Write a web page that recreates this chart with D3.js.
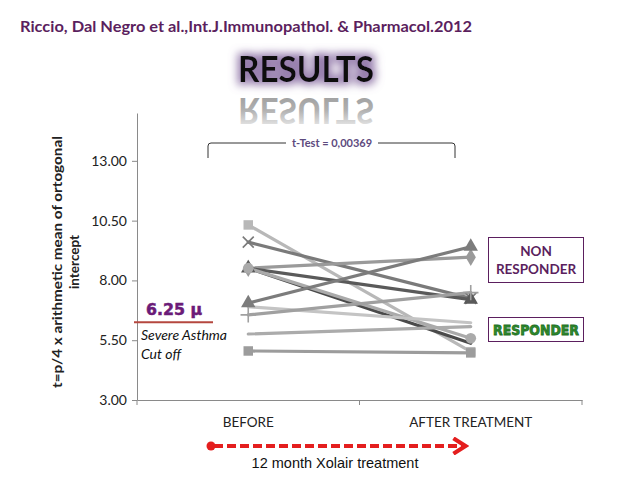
<!DOCTYPE html>
<html>
<head>
<meta charset="utf-8">
<script src="https://cdn.jsdelivr.net/npm/d3@7"></script>
<style>
  body { margin: 0; background: #fff; }
  svg { display: block; }
</style>
</head>
<body>
<div id="chart"></div>
<script>
// patients: value before and after 12 months
const categories = ["BEFORE", "AFTER TREATMENT"];
const beforeValues = [10.32, 9.60, 8.51, 8.51, 8.51, 8.51, 7.05, 6.90, 6.56, 5.76, 5.05];
const afterValues  = [5.02, 7.25, 8.97, 7.20, 5.37, 5.58, 9.41, 6.23, 7.49, 6.07, 4.97];
const lineColors   = ["#b8b8b8", "#7a7a7a", "#9a9a9a", "#5a5a5a", "#4a4a4a", "#aaaaaa", "#7c7c7c", "#c4c4c4", "#a0a0a0", "#ababab", "#9c9c9c"];
const markerTypes  = ["square", "star", "diamond", "triangle", "none", "circle", "triangle", "none", "cross", "none", "square"];
const yTicks = [3.00, 5.50, 8.00, 10.50, 13.00];
const cutoff = 6.25;

const W = 638, H = 479;
const FONT = "Lato, 'Open Sans', sans-serif";
const svg = d3.select("#chart").append("svg")
    .attr("width", W)
    .attr("height", H);

const defs = svg.append("defs");

// purple glow behind RESULTS
const glow = defs.append("filter").attr("id", "glow")
    .attr("x", "-20%").attr("y", "-40%").attr("width", "140%").attr("height", "180%");
glow.append("feMorphology").attr("in", "SourceAlpha").attr("operator", "dilate").attr("radius", 3).attr("result", "fat");
glow.append("feGaussianBlur").attr("in", "fat").attr("stdDeviation", 4).attr("result", "blur");
glow.append("feFlood").attr("flood-color", "#85689f").attr("flood-opacity", 0.85);
glow.append("feComposite").attr("in2", "blur").attr("operator", "in").attr("result", "halo");
const merge = glow.append("feMerge");
merge.append("feMergeNode").attr("in", "halo");
merge.append("feMergeNode").attr("in", "SourceGraphic");

const fade = defs.append("linearGradient").attr("id", "fade")
    .attr("x1", 0).attr("y1", 0).attr("x2", 0).attr("y2", 1);
fade.append("stop").attr("offset", "0%").attr("stop-color", "#fff");
fade.append("stop").attr("offset", "55%").attr("stop-color", "#b0b0b0");
fade.append("stop").attr("offset", "100%").attr("stop-color", "#9a9a9a");

const arrowHead = defs.append("marker").attr("id", "arrowhead")
    .attr("viewBox", "0 0 10 10").attr("refX", 6).attr("refY", 5)
    .attr("markerWidth", 4.5).attr("markerHeight", 4.5).attr("orient", "auto");
arrowHead.append("path").attr("d", "M1,0.5 L8,5 L1,9.5").attr("fill", "none")
    .attr("stroke", "#e41e1e").attr("stroke-width", 2.4);

// header
svg.append("text")
    .attr("x", 20).attr("y", 32)
    .attr("font-family", FONT).attr("font-weight", 700)
    .attr("font-size", 15.5).attr("fill", "#5b1f5e")
    .attr("textLength", 452).attr("lengthAdjust", "spacingAndGlyphs")
    .text("Riccio, Dal Negro et al.,Int.J.Immunopathol. & Pharmacol.2012");

svg.append("text")
    .attr("x", 306).attr("y", 82)
    .attr("text-anchor", "middle")
    .attr("font-family", FONT).attr("font-weight", 700)
    .attr("font-size", 36).attr("fill", "#111")
    .attr("textLength", 136).attr("lengthAdjust", "spacingAndGlyphs")
    .attr("filter", "url(#glow)")
    .text("RESULTS");

// reflection
svg.append("text")
    .attr("transform", "translate(306,98) scale(1,-1)")
    .attr("text-anchor", "middle")
    .attr("font-family", FONT).attr("font-weight", 700)
    .attr("font-size", 36).attr("fill", "url(#fade)")
    .attr("textLength", 136).attr("lengthAdjust", "spacingAndGlyphs")
    .text("RESULTS");

// scales
const x = d3.scaleBand().domain(categories).range([137, 582]);
const y = d3.scaleLinear().domain([3, 15]).range([400, 113]);
const cx = c => x(c) + x.bandwidth() / 2;

// y axis
const yAxis = svg.append("g")
    .attr("transform", "translate(137,0)")
    .call(d3.axisLeft(y).tickValues(yTicks).tickFormat(d3.format(".2f")).tickSize(5).tickSizeOuter(0));
yAxis.select(".domain").attr("stroke", "#8a8a8a");
yAxis.selectAll(".tick line").attr("stroke", "#8a8a8a");
yAxis.selectAll(".tick text")
    .attr("font-family", FONT).attr("font-size", 14)
    .attr("fill", "#222").attr("x", -10);

// x axis
const xAxis = svg.append("g")
    .attr("transform", "translate(0,400)")
    .call(d3.axisBottom(x).tickSize(0).tickSizeOuter(0));
xAxis.select(".domain").attr("stroke", "#8a8a8a");
xAxis.selectAll(".tick text")
    .attr("font-family", FONT).attr("font-size", 13.5)
    .attr("fill", "#222").attr("dy", "1.75em");
const bounds = [x.range()[0], x(categories[1]), x.range()[1]];
xAxis.selectAll(".bound").data(bounds).enter().append("line")
    .attr("x1", d => d).attr("x2", d => d)
    .attr("y1", 0).attr("y2", 5)
    .attr("stroke", "#8a8a8a");

// y axis title
const yTitle = svg.append("text")
    .attr("transform", "translate(62,262) rotate(-90)")
    .attr("text-anchor", "middle")
    .attr("font-family", FONT).attr("font-weight", 700)
    .attr("font-size", 13.5).attr("fill", "#222");
yTitle.append("tspan").attr("x", 0).attr("dy", 0)
    .attr("textLength", 252).attr("lengthAdjust", "spacingAndGlyphs")
    .text("t=p/4 x arithmetic mean of ortogonal");
yTitle.append("tspan").attr("x", 0).attr("dy", 17).text("intercept");

// t-test bracket
const bx0 = 208, bx1 = 455, by = 143;
svg.append("path")
    .attr("d", `M${bx0},158 L${bx0},${by + 3} Q${bx0},${by} ${bx0 + 3},${by} L${bx1 - 3},${by} Q${bx1},${by} ${bx1},${by + 3} L${bx1},158`)
    .attr("fill", "none").attr("stroke", "#333").attr("stroke-width", 1);
svg.append("rect")
    .attr("x", 286).attr("y", 136).attr("width", 92).attr("height", 14).attr("fill", "#fff");
svg.append("text")
    .attr("x", 332).attr("y", 147)
    .attr("text-anchor", "middle")
    .attr("font-family", FONT).attr("font-weight", 700)
    .attr("font-size", 11).attr("fill", "#5d4a7e")
    .text("t-Test = 0,00369");

// patient lines
const pts = beforeValues.map((b, i) => ({ b: b, a: afterValues[i], color: lineColors[i], marker: markerTypes[i] }));
const symbolMap = {
    square: d3.symbolSquare, star: d3.symbolTimes, diamond: d3.symbolDiamond,
    triangle: d3.symbolTriangle, circle: d3.symbolCircle, cross: d3.symbolPlus
};

const lines = svg.append("g");
lines.selectAll("line").data(pts).enter().append("line")
    .attr("x1", cx(categories[0])).attr("y1", d => y(d.b))
    .attr("x2", cx(categories[1])).attr("y2", d => y(d.a))
    .attr("stroke", d => d.color).attr("stroke-width", 3.2)
    .attr("stroke-linecap", "round");

const marks = svg.append("g");
pts.filter(d => d.marker !== "none").forEach(d => {
    [[categories[0], d.b], [categories[1], d.a]].forEach(([c, v]) => {
        const isX = d.marker === "star" || d.marker === "cross";
        marks.append("path")
            .attr("transform", `translate(${cx(c)},${y(v)})`)
            .attr("d", d3.symbol().type(symbolMap[d.marker]).size(isX ? 80 : 90)())
            .attr("fill", isX ? "none" : d.color)
            .attr("stroke", d.color)
            .attr("stroke-width", isX ? 1.6 : 0);
    });
});

// severe asthma cut off
svg.append("line")
    .attr("x1", 134).attr("x2", 213)
    .attr("y1", y(cutoff)).attr("y2", y(cutoff))
    .attr("stroke", "#b5473f").attr("stroke-width", 2);
svg.append("text")
    .attr("x", 146).attr("y", y(cutoff) - 7)
    .attr("font-family", "DejaVu Sans, sans-serif").attr("font-weight", 700)
    .attr("font-size", 15).attr("fill", "#6b1b78")
    .attr("stroke", "#6b1b78").attr("stroke-width", 0.5)
    .attr("textLength", 56).attr("lengthAdjust", "spacingAndGlyphs")
    .text(cutoff + " \u03bc");
svg.append("text")
    .attr("x", 141).attr("y", y(cutoff) + 18)
    .attr("font-family", FONT).attr("font-style", "italic")
    .attr("font-size", 14).attr("fill", "#111")
    .text("Severe Asthma");
svg.append("text")
    .attr("x", 141).attr("y", y(cutoff) + 37)
    .attr("font-family", FONT).attr("font-style", "italic")
    .attr("font-size", 14).attr("fill", "#111")
    .text("Cut off");

// legend boxes
svg.append("rect")
    .attr("x", 488.5).attr("y", 237.5).attr("width", 95).attr("height", 45)
    .attr("fill", "#fff").attr("stroke", "#5b1f5e").attr("stroke-width", 1);
const nonResp = svg.append("text")
    .attr("text-anchor", "middle")
    .attr("font-family", FONT).attr("font-weight", 700)
    .attr("font-size", 13.5).attr("fill", "#5b1f5e");
nonResp.append("tspan").attr("x", 536).attr("y", 256).text("NON");
nonResp.append("tspan").attr("x", 536).attr("y", 274).text("RESPONDER");

svg.append("rect")
    .attr("x", 488.5).attr("y", 317.5).attr("width", 95).attr("height", 24)
    .attr("fill", "#fff").attr("stroke", "#5b1f5e").attr("stroke-width", 1);
svg.append("text")
    .attr("x", 536).attr("y", 335)
    .attr("text-anchor", "middle")
    .attr("font-family", "DejaVu Sans, sans-serif").attr("font-weight", 700)
    .attr("font-size", 14).attr("fill", "#2e8b2e")
    .attr("stroke", "#1f6e1f").attr("stroke-width", 0.8)
    .attr("textLength", 86).attr("lengthAdjust", "spacingAndGlyphs")
    .text("RESPONDER");

// treatment arrow
svg.append("circle")
    .attr("cx", 211).attr("cy", 446).attr("r", 4.5).attr("fill", "#e41e1e");
svg.append("line")
    .attr("x1", 214).attr("x2", 462)
    .attr("y1", 446).attr("y2", 446)
    .attr("stroke", "#e41e1e").attr("stroke-width", 3.8)
    .attr("stroke-dasharray", "9,4")
    .attr("marker-end", "url(#arrowhead)");
svg.append("text")
    .attr("x", 335).attr("y", 468)
    .attr("text-anchor", "middle")
    .attr("font-family", "Liberation Sans, Arial, sans-serif")
    .attr("font-size", 14.5).attr("fill", "#111")
    .text("12 month Xolair treatment");
</script>
</body>
</html>
